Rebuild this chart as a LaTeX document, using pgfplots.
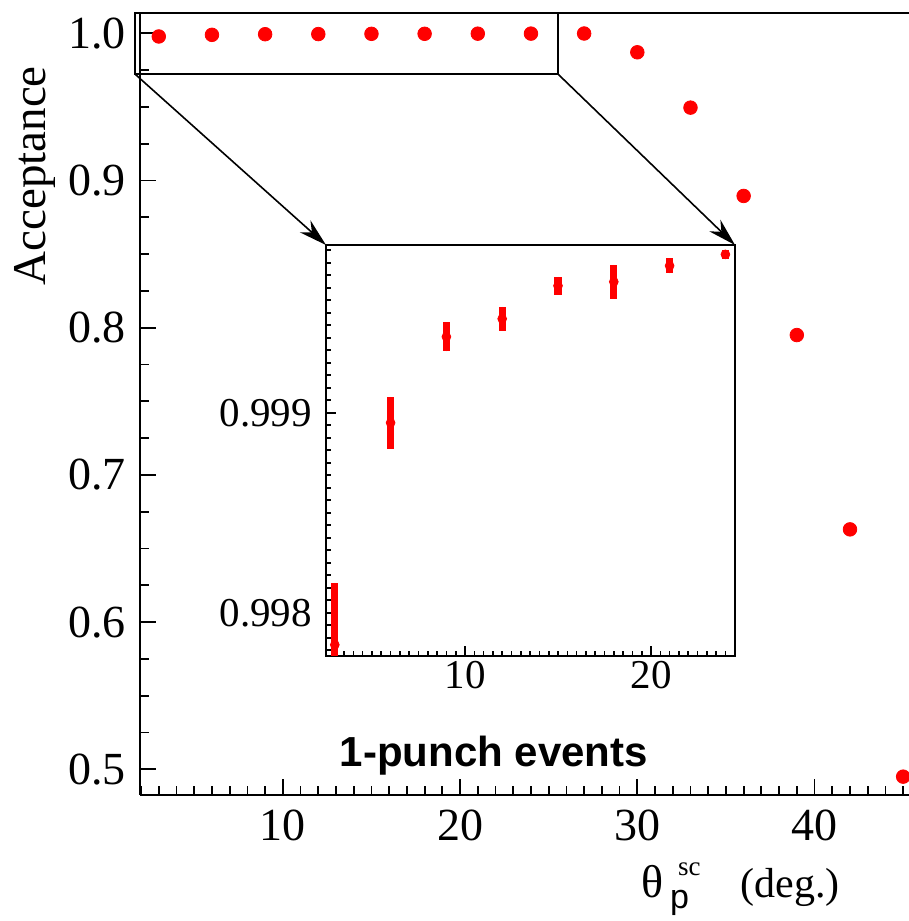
\documentclass[border=0pt]{standalone}
\usepackage{fontspec}
\setmainfont{Liberation Serif}
\setsansfont{Liberation Sans}
\usepackage{pgfplots}
\pgfplotsset{compat=1.18}
\usetikzlibrary{arrows.meta}

\begin{document}
\begin{tikzpicture}
\useasboundingbox (-70pt,-63pt) rectangle (384.5pt,397.5pt);
\begin{axis}[
  name=main,
  at={(0pt,0pt)}, anchor=south west,
  scale only axis, width=384.5pt, height=390.85pt,
  xmin=1.94, xmax=45.33, ymin=0.48254, ymax=1.01359,
  clip=false,
  axis x line*=box, axis y line*=left,
  axis line style={line width=1pt, -},
  xtick={0,10,20,30,40,50}, minor x tick num=9,
  ytick={0.4,0.5,0.6,0.7,0.8,0.9,1.0,1.1}, minor y tick num=3,
  xtick pos=left, ytick pos=left,
  major tick length=8pt, minor tick length=4.5pt,
  tick style={line width=0.9pt, black},
  /pgf/number format/assume math mode=true,
  ticklabel style={font=\fontsize{23}{23}\selectfont},
  scaled ticks=false,
  yticklabel style={/pgf/number format/.cd, fixed, fixed zerofill, precision=1, /tikz/.cd, xshift=-3.5pt},
  xticklabel style={/pgf/number format/.cd, fixed, precision=0, /tikz/.cd, yshift=-4pt},
  ylabel={Acceptance},
  ylabel style={at={(axis description cs:-0.1365,0.792)}, anchor=center, font=\fontsize{23.5}{23.5}\selectfont},
  xlabel={{\fontsize{23}{23}\selectfont θ}\hspace{3pt}\rlap{\raisebox{-5.5pt}{\fontsize{17}{17}\selectfont\sffamily p}}\hspace{4pt}\raisebox{11pt}{\fontsize{13.5}{13.5}\selectfont sc}\hspace{20pt}(deg.)},
  xlabel style={at={(axis description cs:0.9103,-0.1305)}, anchor=base east, inner sep=0pt, font=\fontsize{21}{21}\selectfont},
]
\addplot[only marks, mark=*, mark size=3.4pt, color=red, fill=red] coordinates {
  (3,0.99784) (6,0.99895) (9,0.99938) (12,0.99947) (15,0.99964)
  (18,0.99966) (21,0.99974) (24,0.99979) (27,0.99985) (30,0.9871)
  (33,0.9495) (36,0.8895) (39,0.795) (42,0.663) (45,0.495)
};
\draw[line width=1pt] (axis cs:1.654,0.97235) rectangle (axis cs:25.52,1.0136);
\coordinate (bl) at (axis cs:1.654,0.97235);
\coordinate (br) at (axis cs:25.52,0.97235);
\node[anchor=base, font=\sffamily\bfseries\fontsize{21}{21}\selectfont] at (axis cs:21.9,0.5016) {1-punch events};
\end{axis}

\begin{axis}[
  name=inset,
  at={(93pt,69.5pt)}, anchor=south west,
  scale only axis, width=204.5pt, height=205.5pt,
  xmin=2.527, xmax=24.516, ymin=0.997784, ymax=0.999839,
  axis background/.style={fill=white},
  axis line style={line width=1pt},
  xtick={0,10,20,30}, minor x tick num=19,
  ytick={0.997,0.998,0.999,1.0}, minor y tick num=15,
  xtick pos=left, ytick pos=left,
  major tick length=5pt, minor tick length=2.5pt,
  tick style={line width=0.8pt, black},
  /pgf/number format/assume math mode=true,
  ticklabel style={font=\fontsize{20.5}{20.5}\selectfont},
  scaled ticks=false,
  yticklabel style={/pgf/number format/.cd, fixed, fixed zerofill, precision=3, /tikz/.cd, xshift=-3.5pt},
  xticklabel style={/pgf/number format/.cd, fixed, precision=0, /tikz/.cd, yshift=1pt},
]
\addplot[only marks, mark=*, mark size=2.2pt, color=red, fill=red,
  error bars/.cd, y dir=both, y explicit,
  error bar style={line width=3.6pt, red}, error mark=none]
  coordinates {
  (3,0.99784) +- (0,0.00031)
  (6,0.99895) +- (0,0.00013)
  (9,0.99938) +- (0,0.0000725)
  (12,0.99947) +- (0,0.00006)
  (15,0.999635) +- (0,0.000045)
  (18,0.999655) +- (0,0.000085)
  (21,0.999735) +- (0,0.0000375)
  (24,0.999792) +- (0,0.0000225)
};
\end{axis}

\draw[line width=0.8pt, -{Stealth[length=14pt, width=8pt]}] (bl) -- (inset.north west);
\draw[line width=0.8pt, -{Stealth[length=14pt, width=8pt]}] (br) -- (inset.north east);
\end{tikzpicture}
\end{document}
